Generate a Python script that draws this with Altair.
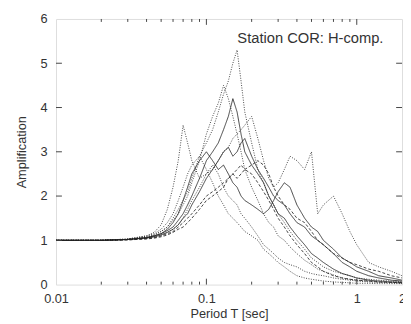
import altair as alt
import pandas as pd

# Period grid (s)
periods = [0.010, 0.020, 0.030, 0.040, 0.045, 0.050, 0.055, 0.060, 0.065, 0.070,
           0.075, 0.080, 0.090, 0.100, 0.110, 0.120, 0.130, 0.140, 0.150, 0.160,
           0.170, 0.180, 0.200, 0.220, 0.240, 0.260, 0.280, 0.300, 0.330, 0.360,
           0.400, 0.450, 0.500, 0.550, 0.600, 0.700, 0.800, 0.900, 1.000, 1.200,
           1.400, 1.700, 2.000]

c1 = [1.0, 1.0, 1.02, 1.08, 1.12, 1.2, 1.3, 1.5, 1.7, 1.9, 2.1, 2.4, 2.9, 3.2, 3.5, 3.9, 4.3, 4.6, 5.0, 5.3,
      4.6, 3.9, 3.2, 2.6, 2.3, 2.0, 1.8, 1.6, 1.4, 1.2, 1.0, 0.8, 0.6, 0.5, 0.4, 0.3, 0.25, 0.2, 0.15, 0.12,
      0.1, 0.08, 0.06]
c2 = [1.0, 1.0, 1.03, 1.1, 1.18, 1.35, 1.7, 2.2, 2.8, 3.6, 3.2, 2.8, 2.4, 2.5, 2.7, 2.5, 2.2, 2.0, 1.9, 1.8,
      1.6, 1.5, 1.3, 1.1, 0.9, 0.8, 0.7, 0.6, 0.5, 0.45, 0.4, 0.3, 0.25, 0.22, 0.2, 0.15, 0.12, 0.1, 0.08, 0.06,
      0.05, 0.04, 0.03]
c3 = [1.0, 1.0, 1.02, 1.06, 1.1, 1.15, 1.22, 1.3, 1.45, 1.6, 1.8, 2.0, 2.4, 2.8, 3.0, 3.2, 3.5, 3.8, 4.2, 3.9,
      3.4, 3.0, 2.7, 2.5, 2.3, 2.0, 1.8, 1.6, 1.5, 1.3, 1.1, 0.9, 0.7, 0.6, 0.5, 0.35, 0.25, 0.2, 0.15, 0.1,
      0.08, 0.06, 0.05]
c4 = [1.0, 1.0, 1.02, 1.05, 1.08, 1.12, 1.18, 1.25, 1.35, 1.5, 1.7, 1.9, 2.2, 2.5, 2.6, 2.8, 3.0, 3.1, 3.3, 3.4,
      3.5, 3.6, 3.8, 3.3, 2.8, 2.4, 2.2, 2.3, 2.6, 2.9, 2.8, 2.6, 3.0, 1.6, 1.8, 2.0, 1.6, 1.2, 0.9, 0.5,
      0.4, 0.3, 0.2]
c5 = [1.0, 1.0, 1.02, 1.07, 1.12, 1.2, 1.3, 1.45, 1.6, 1.8, 2.0, 2.3, 2.8, 3.4, 3.8, 4.1, 4.5, 4.2, 3.8, 3.4,
      3.0, 2.6, 2.2, 1.9, 1.6, 1.4, 1.3, 1.1, 1.0, 0.85, 0.7, 0.55, 0.45, 0.35, 0.3, 0.22, 0.15, 0.12, 0.1, 0.08,
      0.06, 0.05, 0.04]
c6 = [1.0, 1.0, 1.02, 1.06, 1.1, 1.15, 1.25, 1.4, 1.6, 1.9, 2.2, 2.5, 2.8, 3.0, 2.8, 2.6, 2.7, 2.5, 2.3, 2.2,
      2.0, 1.9, 1.8, 1.7, 1.6, 1.7, 1.9, 2.1, 2.3, 2.2, 1.8, 1.5, 1.3, 1.2, 1.0, 0.8, 0.6, 0.5, 0.4, 0.3,
      0.2, 0.15, 0.1]
c7 = [1.0, 1.0, 1.01, 1.04, 1.06, 1.1, 1.15, 1.2, 1.3, 1.4, 1.5, 1.6, 1.8, 2.0, 2.1, 2.2, 2.3, 2.4, 2.5, 2.4,
      2.5, 2.6, 2.5, 2.3, 2.1, 1.9, 1.7, 1.5, 1.3, 1.1, 0.9, 0.7, 0.5, 0.4, 0.3, 0.2, 0.15, 0.12, 0.1, 0.08,
      0.06, 0.05, 0.04]
c8 = [1.0, 1.0, 1.03, 1.1, 1.15, 1.25, 1.4, 1.6, 1.9, 2.2, 2.5, 2.7, 2.9, 2.6, 2.3, 2.0, 1.8, 1.6, 1.5, 1.4,
      1.3, 1.2, 1.1, 1.0, 0.8, 0.7, 0.6, 0.5, 0.4, 0.3, 0.2, 0.15, 0.12, 0.1, 0.08, 0.06, 0.05, 0.04, 0.03, 0.03,
      0.02, 0.02, 0.02]
c9 = [1.0, 1.0, 1.02, 1.05, 1.08, 1.12, 1.18, 1.25, 1.35, 1.5, 1.6, 1.8, 2.1, 2.4, 2.6, 2.8, 3.0, 3.1, 2.9, 3.0,
      3.2, 3.3, 2.9, 2.6, 2.4, 2.2, 2.0, 1.9, 1.8, 1.6, 1.4, 1.3, 1.1, 1.0, 0.9, 0.7, 0.5, 0.4, 0.3, 0.2,
      0.15, 0.1, 0.08]
c10 = [1.0, 1.0, 1.01, 1.03, 1.05, 1.08, 1.12, 1.18, 1.25, 1.3, 1.4, 1.5, 1.7, 1.9, 2.0, 2.1, 2.2, 2.4, 2.5, 2.6,
       2.7, 2.6, 2.7, 2.8, 2.7, 2.5, 2.2, 2.0, 1.8, 1.7, 1.5, 1.4, 1.2, 1.0, 0.9, 0.7, 0.6, 0.5, 0.45, 0.35,
       0.3, 0.2, 0.15]

curves = [c1, c2, c3, c4, c5, c6, c7, c8, c9, c10]
styles = ["dotted", "dotted", "solid", "dotted", "dotted", "solid", "dashed", "dotted", "solid", "dashed"]

x_labels = [0.01, 0.1, 1, 2]
x_major_ticks = [0.1, 1]
x_minor_ticks = [0.02, 0.03, 0.04, 0.05, 0.06, 0.07, 0.08, 0.09,
                 0.2, 0.3, 0.4, 0.5, 0.6, 0.7, 0.8, 0.9]
y_ticks = [1, 2, 3, 4, 5]
annotation = "Station COR: H-comp."

rows = []
for i, (vals, st) in enumerate(zip(curves, styles)):
    for t, a in zip(periods, vals):
        rows.append({"T": t, "A": a, "curve": f"c{i+1}", "style": st})
df = pd.DataFrame(rows)

W, H = 353, 271
FONT = "Liberation Sans"

xscale = alt.Scale(type="log", domain=[0.01, 2], nice=False)
yscale = alt.Scale(domain=[0, 6], nice=False)

lines = alt.Chart(df).mark_line(strokeWidth=1, color="#222", opacity=0.85, clip=True).encode(
    x=alt.X("T:Q", scale=xscale,
            axis=alt.Axis(values=x_labels, ticks=False, domain=False, grid=False,
                          labelFontSize=13, labelColor="#333", labelFont=FONT, labelPadding=8,
                          labelFlush=False, labelExpr="datum.value == 2 ? '2' : format(datum.value, '')",
                          title="Period T [sec]", titleFontSize=13, titleFont=FONT,
                          titleFontWeight="normal", titleColor="#333", titlePadding=3)),
    y=alt.Y("A:Q", scale=yscale,
            axis=alt.Axis(values=[0, 1, 2, 3, 4, 5, 6], ticks=False, domain=False, grid=False,
                          labelFontSize=13, labelColor="#333", labelFont=FONT, labelPadding=9,
                          title="Amplification", titleFontSize=13, titleFont=FONT,
                          titleFontWeight="normal", titleColor="#333", titlePadding=12)),
    detail="curve:N",
    strokeDash=alt.StrokeDash("style:N", legend=None,
                              scale=alt.Scale(domain=["solid", "dotted", "dashed"],
                                              range=[[1, 0], [1, 1.5], [3, 2]])),
)

minor_df = pd.DataFrame({"T": x_minor_ticks})
major_df = pd.DataFrame({"T": x_major_ticks})
ytick_df = pd.DataFrame({"A": y_ticks})

tick_color = "#444"
xb_minor = alt.Chart(minor_df).mark_rule(color=tick_color, strokeWidth=1).encode(
    x=alt.X("T:Q", scale=xscale), y=alt.value(H), y2=alt.value(H - 3))
xt_minor = alt.Chart(minor_df).mark_rule(color=tick_color, strokeWidth=1).encode(
    x=alt.X("T:Q", scale=xscale), y=alt.value(0), y2=alt.value(3))
xb_major = alt.Chart(major_df).mark_rule(color=tick_color, strokeWidth=1).encode(
    x=alt.X("T:Q", scale=xscale), y=alt.value(H), y2=alt.value(H - 6))
xt_major = alt.Chart(major_df).mark_rule(color=tick_color, strokeWidth=1).encode(
    x=alt.X("T:Q", scale=xscale), y=alt.value(0), y2=alt.value(6))
yl = alt.Chart(ytick_df).mark_rule(color=tick_color, strokeWidth=1).encode(
    y=alt.Y("A:Q", scale=yscale), x=alt.value(0), x2=alt.value(6))
yr = alt.Chart(ytick_df).mark_rule(color=tick_color, strokeWidth=1).encode(
    y=alt.Y("A:Q", scale=yscale), x=alt.value(W), x2=alt.value(W - 6))

text = alt.Chart(pd.DataFrame({"label": [annotation]})).mark_text(
    align="left", baseline="middle", fontSize=15, font=FONT, color="#333"
).encode(x=alt.value(185), y=alt.value(19), text="label:N")

chart = alt.layer(lines, xb_minor, xt_minor, xb_major, xt_major, yl, yr, text).properties(
    width=W, height=H,
    autosize=alt.AutoSizeParams(type="none"),
    padding={"left": 49, "top": 8, "right": 1, "bottom": 37},
).configure_view(stroke="#444", strokeWidth=1.5).configure(background="white")

chart.save("out.html", embed_options={"renderer": "svg", "actions": False})
